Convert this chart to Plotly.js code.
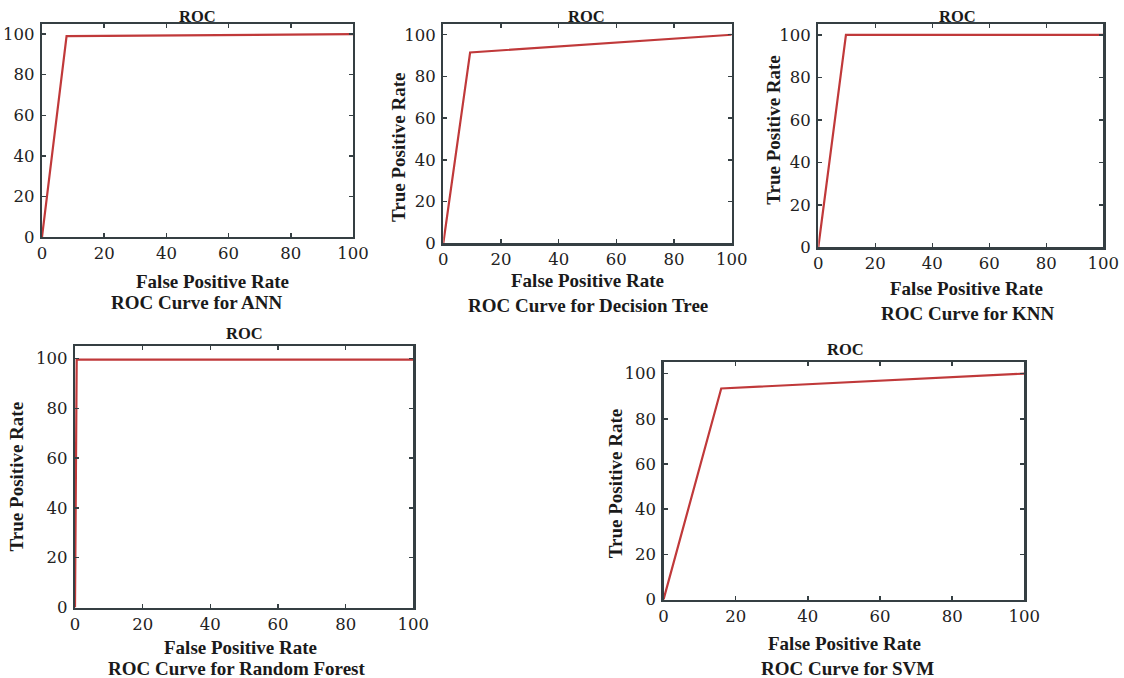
<!DOCTYPE html>
<html>
<head>
<meta charset="utf-8">
<script src="https://cdn.plot.ly/plotly-3.0.1.min.js"></script>
<style>
html,body{margin:0;padding:0;background:#fff;}
#chart{width:1124px;height:678px;}
</style>
</head>
<body>
<div id="chart"></div>
<script>
// ---- data ----
const tickValues = [0, 20, 40, 60, 80, 100];
const tickLabels = ['0', '20', '40', '60', '80', '100'];

const annFPR = [0, 7.9, 100];
const annTPR = [0, 99, 100];

const dtFPR = [0, 9.3, 100];
const dtTPR = [0, 91.5, 100];

const knnFPR = [0, 9.7, 100];
const knnTPR = [0, 100, 100];

const rfFPR = [0, 0.5, 100];
const rfTPR = [0, 99.5, 99.5];

const svmFPR = [0, 16, 100];
const svmTPR = [0, 93.4, 100];

const panelTitle = 'ROC';
const xTitle = 'False Positive Rate';
const yTitle = 'True Positive Rate';
const captions = ['ROC Curve for ANN', 'ROC Curve for Decision Tree', 'ROC Curve for KNN',
                  'ROC Curve for Random Forest', 'ROC Curve for SVM'];

// ---- layout helpers ----
const W = 1124, H = 678;
const px = v => v / W;
const py = v => 1 - v / H;

const lineColor = '#c0393a';
const boxColor = '#353f43';

function axis(d, range, anchor, standoff) {
  return {
    domain: d, range: range, anchor: anchor,
    tickmode: 'array', tickvals: tickValues, ticktext: tickLabels,
    ticks: 'inside', ticklen: 4, tickwidth: 1.5, tickcolor: boxColor,
    showline: true, linecolor: boxColor, linewidth: 2.2, mirror: 'ticks',
    showgrid: false, zeroline: false, fixedrange: true,
    ticklabelstandoff: standoff,
    tickfont: {family: '"DejaVu Serif", "Liberation Serif", serif', size: 16.5, color: '#222222'}
  };
}

const series = [
  [annFPR, annTPR], [dtFPR, dtTPR], [knnFPR, knnTPR], [rfFPR, rfTPR], [svmFPR, svmTPR]
];
const data = series.map((s, i) => ({
  x: s[0], y: s[1], type: 'scatter', mode: 'lines',
  xaxis: i === 0 ? 'x' : 'x' + (i + 1),
  yaxis: i === 0 ? 'y' : 'y' + (i + 1),
  line: {color: lineColor, width: 2.2},
  showlegend: false, hoverinfo: 'x+y'
}));

// panel boxes in pixels: [left, right, top, bottom]
const boxes = [
  [42, 353, 24, 237],
  [443.3, 731.7, 24.3, 243.3],
  [818.3, 1103.3, 24.3, 247.3],
  [75, 413.3, 346, 607.5],
  [663.5, 1024.3, 362.3, 599.6]
];

const layout = {
  width: W, height: H,
  margin: {l: 0, r: 0, t: 0, b: 0},
  paper_bgcolor: '#ffffff', plot_bgcolor: '#ffffff',
  showlegend: false,
  annotations: []
};

boxes.forEach((b, i) => {
  const sfx = i === 0 ? '' : String(i + 1);
  layout['xaxis' + sfx] = axis([px(b[0]), px(b[1])], [0, 100], 'y' + sfx, 0);
  layout['yaxis' + sfx] = axis([py(b[3]), py(b[2])], [0, 105], 'x' + sfx, 2);
});

const titleFont = {family: 'Liberation Serif', size: 16.5, color: '#1a1a1a', weight: 'bold'};
const labFont = {family: 'Liberation Serif', size: 19, color: '#1a1a1a', weight: 'bold'};

function note(text, x, y, font, angle) {
  layout.annotations.push({
    text: '<b>' + text + '</b>', x: px(x), y: py(y), xref: 'paper', yref: 'paper',
    xanchor: 'center', yanchor: 'middle', showarrow: false, font: font,
    textangle: angle || 0
  });
}

// "ROC" titles
note(panelTitle, 197, 17, titleFont);
note(panelTitle, 586, 17, titleFont);
note(panelTitle, 957, 17, titleFont);
note(panelTitle, 244.3, 334, titleFont);
note(panelTitle, 845, 349, titleFont);

// x-axis titles
note(xTitle, 212, 281, labFont);
note(xTitle, 587.5, 280, labFont);
note(xTitle, 966.7, 288.7, labFont);
note(xTitle, 240, 647.7, labFont);
note(xTitle, 844.2, 643.3, labFont);

// y-axis titles (ANN panel has none)
note(yTitle, 398.3, 146.7, labFont, -90);
note(yTitle, 772.7, 130, labFont, -90);
note(yTitle, 16.7, 476.7, labFont, -90);
note(yTitle, 615, 483.3, labFont, -90);

// captions
note(captions[0], 196.5, 303, labFont);
note(captions[1], 587.5, 305.7, labFont);
note(captions[2], 967.5, 313.3, labFont);
note(captions[3], 236.7, 668.3, labFont);
note(captions[4], 847.7, 668.3, labFont);

Plotly.newPlot('chart', data, layout, {displayModeBar: false, staticPlot: true});
</script>
</body>
</html>
